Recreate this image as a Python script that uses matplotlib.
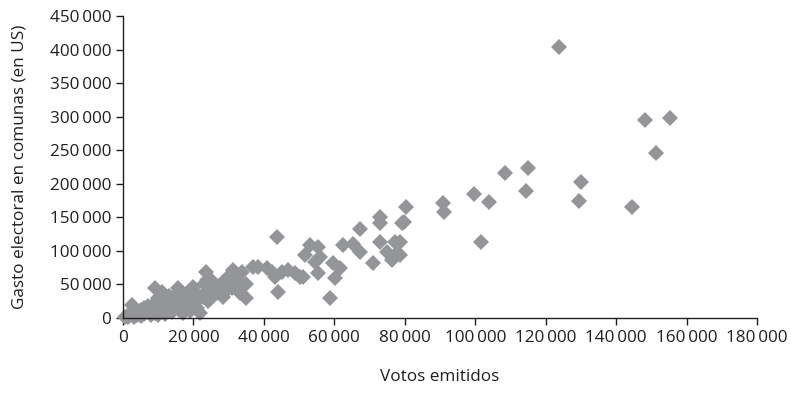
import numpy as np
import matplotlib.pyplot as plt
from matplotlib.ticker import FuncFormatter

# votos emitidos y gasto electoral (miles)
votos = [0.5, 1, 1.5, 2, 2.5, 3, 3, 4, 4, 5, 5, 6, 6, 7, 7, 8, 8, 9, 9, 9,
         10, 10, 10, 11, 11, 11, 12, 12, 13, 13, 14, 14, 15, 15, 15.6, 16, 16,
         17, 17, 18, 18, 19, 19, 19.9, 20, 20, 21, 21, 22, 22, 22.7, 23, 23.5,
         23.8, 24, 24, 25, 25, 25, 26, 26.7, 27, 28, 28, 28.4, 29, 29.5, 29.5,
         30, 30.4, 31, 31.2, 32, 32.4, 33, 33.2, 33.8, 35, 35,
         36.9, 38.3, 40.9, 42.3, 43.2, 43.7, 44, 45.1, 46.8, 48.8, 50.2, 51.1,
         51.7, 53.1, 54.5, 55.4, 55.4, 55.9, 58.8, 59.6, 60.2, 61.6, 62.5, 65.3,
         67.3, 67.3, 71, 73, 73, 73, 75, 76.4, 77.2, 77.8, 78.6, 78.6, 79.2,
         79.8, 80.3, 90.8, 91.1, 99.7, 101.6, 103.9, 108.4, 114.4, 115, 123.8,
         129.5, 130, 144.5, 148.2, 151.3, 155.3]
gasto = [1, 3, 2, 5, 19, 8, 2, 10, 4, 12, 3, 15, 6, 9, 18, 4, 13, 44, 22, 8,
         30, 15, 5, 38, 20, 10, 25, 6, 33, 16, 28, 9, 36, 20, 44.7, 12, 30,
         25, 7, 34, 18, 40, 10, 46, 28, 22, 15, 36, 31, 8, 31, 50, 68,
         56, 40, 25, 56, 45, 30, 38, 37, 48, 42, 52, 31, 55, 49, 42,
         62, 57, 45, 72, 52, 57, 40, 37, 68, 30, 50,
         76, 76, 74.5, 68.5, 61, 120.7, 38.7, 68.5, 71.5, 67, 61, 61,
         94, 108.8, 83.4, 67, 105.8, 91, 29.8, 82, 59.6, 74.5, 108.8, 110,
         132.6, 98.3, 82, 150.5, 141.5, 113, 98, 86.4, 113, 96.8, 113, 94, 141.5,
         143, 165, 171.3, 158, 184.8, 113.2, 172.8, 216, 189.2, 223.5, 403.8,
         174.3, 202.6, 165.4, 295, 245.9, 298]

x = np.array(votos) * 1000
y = np.array(gasto) * 1000

fuente = ['Open Sans', 'DejaVu Sans']
plt.rcParams['font.family'] = fuente

fig = plt.figure(figsize=(7.91, 4.07), dpi=100)
ax = fig.add_axes([0.1555, 0.2187, 0.8015, 0.742])

ax.plot(x, y, linestyle='none', marker='D', markersize=8.5,
        color='#939598', markeredgewidth=0, clip_on=False)

ax.set_xlim(0, 180000)
ax.set_ylim(0, 450000)
ax.set_xticks(np.arange(0, 180001, 20000))
ax.set_yticks(np.arange(0, 450001, 50000))

def miles(v, pos):
    return f'{int(v):,}'.replace(',', '\u2009')

ax.xaxis.set_major_formatter(FuncFormatter(miles))
ax.yaxis.set_major_formatter(FuncFormatter(miles))

for s in ['top', 'right']:
    ax.spines[s].set_visible(False)
for s in ['left', 'bottom']:
    ax.spines[s].set_color('#231f20')
    ax.spines[s].set_linewidth(1)

ax.tick_params(axis='both', direction='out', length=5, width=1,
               color='#231f20', labelsize=12.3, labelcolor='#231f20')
ax.tick_params(axis='x', pad=4)

ax.set_xlabel('Votos emitidos', fontsize=12.3, color='#231f20', labelpad=16)
ax.set_ylabel('Gasto electoral en comunas (en US)', fontsize=12.3,
              color='#231f20', labelpad=16)

fig.savefig('out.png', dpi=100)
